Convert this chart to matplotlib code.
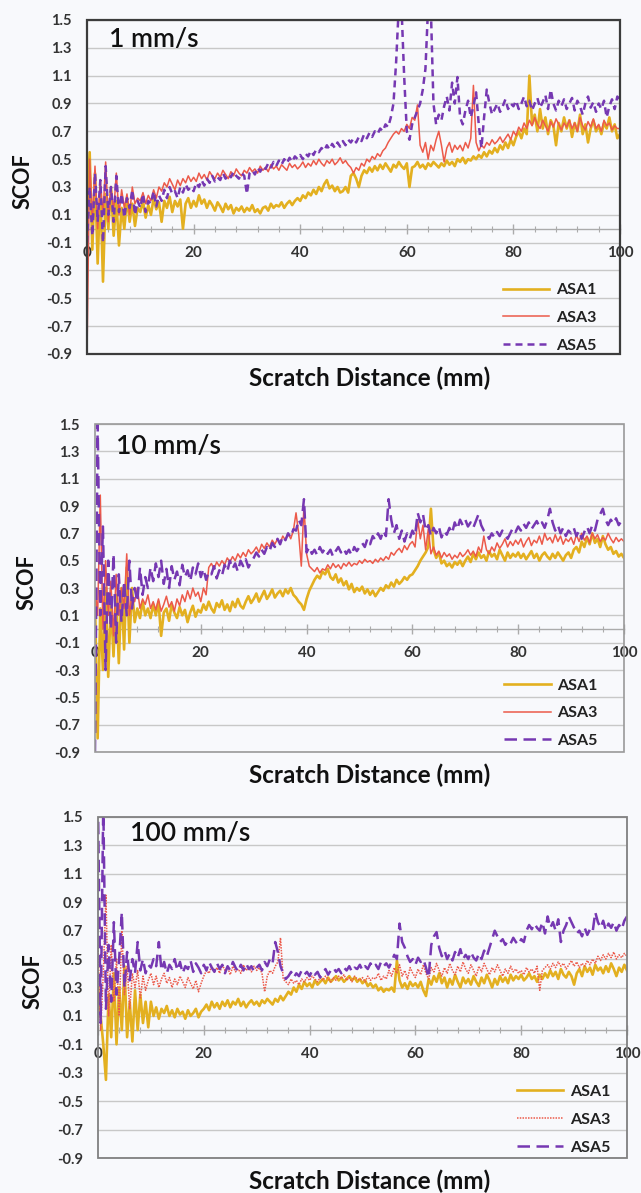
import numpy as np
import matplotlib
matplotlib.use('Agg')
import matplotlib.pyplot as plt
from matplotlib.patches import Rectangle
from matplotlib.ticker import MultipleLocator

plt.rcParams['font.family'] = ['Lato', 'DejaVu Sans']
plt.rcParams['axes.unicode_minus'] = False

# ---------------- data ----------------
panel_titles = ['1 mm/s', '10 mm/s', '100 mm/s']
series_names = ['ASA1', 'ASA3', 'ASA5']
x_ticks = [0, 20, 40, 60, 80, 100]
y_ticks = [-0.9, -0.7, -0.5, -0.3, -0.1, 0.1, 0.3, 0.5, 0.7, 0.9, 1.1, 1.3, 1.5]
x_label = 'Scratch Distance (mm)'
y_label = 'SCOF'

# SCOF sampled every 0.5 mm from 0 to 100 mm
# ---- 1 mm/s ----
asa1_1mm = [
    0.1, 0.55, -0.15, 0.4, -0.25, 0.3, -0.38, 0.25, 0.0, 0.3, -0.05, 0.2, -0.12, 0.15, 0.0, 0.22, 0.05, 0.18, 0.02, 0.15,
    0.12, 0.2, 0.08, 0.17, 0.1, 0.22, 0.14, 0.19, 0.05, 0.2, 0.15, 0.23, 0.12, 0.2, 0.16, 0.21, 0.0, 0.18, 0.22, 0.15,
    0.2, 0.16, 0.24, 0.18, 0.21, 0.15, 0.2, 0.17, 0.13, 0.19, 0.16, 0.12, 0.18, 0.14, 0.17, 0.11, 0.15, 0.13, 0.16, 0.12,
    0.15, 0.13, 0.17, 0.12, 0.14, 0.11, 0.15, 0.16, 0.13, 0.18, 0.15, 0.17, 0.16, 0.19, 0.15, 0.18, 0.2, 0.17, 0.2, 0.22,
    0.2, 0.24, 0.22, 0.26, 0.24, 0.28, 0.25, 0.3, 0.27, 0.32, 0.35, 0.29, 0.31, 0.27, 0.3, 0.26, 0.27, 0.3, 0.26, 0.38,
    0.4, 0.36, 0.3, 0.38, 0.42, 0.4, 0.44, 0.41, 0.45, 0.42, 0.46, 0.43, 0.47, 0.44, 0.41, 0.46, 0.44, 0.48, 0.45, 0.43,
    0.47, 0.3, 0.44, 0.45, 0.48, 0.44, 0.46, 0.43, 0.47, 0.45, 0.48, 0.46, 0.44, 0.47, 0.45, 0.49, 0.46, 0.48, 0.45, 0.5,
    0.48, 0.51, 0.47, 0.5, 0.49, 0.52, 0.5, 0.53, 0.51, 0.55, 0.52, 0.56, 0.54, 0.58, 0.55, 0.6, 0.57, 0.62, 0.58, 0.64,
    0.6, 0.66, 0.7, 0.65, 0.72, 0.68, 1.1, 0.75, 0.82, 0.7, 0.86, 0.72, 0.8, 0.68, 0.78, 0.74, 0.6, 0.76, 0.7, 0.8,
    0.72, 0.78, 0.66, 0.76, 0.7, 0.82, 0.68, 0.75, 0.62, 0.72, 0.78, 0.7, 0.74, 0.68, 0.76, 0.72, 0.8, 0.7, 0.75, 0.65,
    0.68]
asa3_1mm = [
    -0.9, 0.5, 0.05, 0.45, 0.0, 0.35, 0.1, 0.48, 0.05, 0.3, 0.12, 0.4, 0.1, 0.28, 0.15, 0.25, 0.1, 0.3, 0.18, 0.22,
    0.2, 0.26, 0.18, 0.24, 0.2, 0.28, 0.22, 0.3, 0.27, 0.33, 0.3, 0.36, 0.32, 0.28, 0.35, 0.31, 0.36, 0.33, 0.38, 0.34,
    0.37, 0.34, 0.4, 0.36, 0.39, 0.35, 0.41, 0.38, 0.36, 0.4, 0.37, 0.42, 0.39, 0.36, 0.41, 0.38, 0.43, 0.4, 0.38, 0.42,
    0.4, 0.44, 0.41, 0.43, 0.4, 0.45, 0.42, 0.44, 0.41, 0.46, 0.43, 0.45, 0.42, 0.46, 0.44, 0.42, 0.47, 0.44, 0.46, 0.43,
    0.45, 0.48, 0.44, 0.47, 0.45, 0.49, 0.46, 0.5, 0.47, 0.45, 0.49, 0.47, 0.5, 0.46, 0.48, 0.51, 0.47, 0.49, 0.46, 0.44,
    0.4, 0.44, 0.42, 0.47, 0.45, 0.5, 0.48, 0.52, 0.5, 0.54, 0.52, 0.56, 0.58, 0.62, 0.65, 0.68, 0.7, 0.68, 0.72, 0.7,
    0.75, 0.72, 0.8, 0.78, 0.89, 0.6, 0.55, 0.62, 0.5, 0.6, 0.56, 0.64, 0.7, 0.6, 0.48, 0.58, 0.62, 0.55, 0.6, 0.57,
    0.6, 0.56, 0.62, 0.58, 0.65, 1.03, 0.62, 0.56, 0.6, 0.58, 0.62, 0.6, 0.64, 0.61, 0.63, 0.66, 0.62, 0.65, 0.68, 0.64,
    0.7, 0.67, 0.73, 0.7, 0.76, 0.72, 0.78, 0.74, 0.8, 0.75, 0.72, 0.78, 0.74, 0.7, 0.77, 0.73, 0.79, 0.75, 0.71, 0.76,
    0.73, 0.78, 0.72, 0.76, 0.7, 0.8, 0.74, 0.71, 0.77, 0.73, 0.79, 0.72, 0.75, 0.7, 0.78, 0.74, 0.76, 0.71, 0.74, 0.72,
    0.72]
asa5_1mm = [
    -0.1, 0.3, -0.05, 0.4, 0.05, 0.35, -0.1, 0.45, 0.1, 0.3, 0.05, 0.38, 0.12, 0.25, 0.08, 0.22, 0.15, 0.28, 0.1, 0.2,
    0.15, 0.25, 0.12, 0.2, 0.18, 0.27, 0.16, 0.24, 0.2, 0.28, 0.22, 0.3, 0.25, 0.27, 0.22, 0.3, 0.26, 0.32, 0.28, 0.3,
    0.27, 0.33, 0.3, 0.35, 0.31, 0.36, 0.33, 0.38, 0.34, 0.37, 0.35, 0.4, 0.36, 0.39, 0.37, 0.41, 0.38, 0.36, 0.4, 0.38,
    0.25, 0.4, 0.42, 0.39, 0.44, 0.41, 0.45, 0.43, 0.47, 0.44, 0.48, 0.45, 0.49, 0.46, 0.5, 0.47, 0.51, 0.48, 0.52, 0.5,
    0.53, 0.5, 0.54, 0.52, 0.56, 0.53, 0.57, 0.55, 0.58, 0.56, 0.6, 0.57, 0.61, 0.58, 0.62, 0.59, 0.63, 0.6, 0.64, 0.62,
    0.65, 0.62, 0.66, 0.63, 0.68, 0.65, 0.69, 0.66, 0.7, 0.68, 0.72, 0.7, 0.75, 0.73, 0.8, 0.9, 1.2, 1.6, 1.6, 1.1,
    0.7, 0.64, 0.75, 0.8, 0.85, 0.9, 1.0, 1.15, 1.6, 1.6, 0.9, 0.75, 0.82, 0.78, 0.88, 0.95, 0.85, 1.05, 0.9, 1.09,
    0.8, 0.75, 0.85, 0.92, 0.8, 0.88, 0.98, 0.75, 0.58, 0.8, 1.0, 0.9, 0.82, 0.86, 0.9, 0.84, 0.88, 0.93, 0.86, 0.9,
    0.88, 0.92, 0.86, 0.9, 0.95, 0.88, 0.92, 0.85, 0.9, 0.94, 0.87, 0.91, 0.96, 0.86, 1.0, 0.9, 0.85, 0.92, 0.88, 0.93,
    0.86, 0.9, 0.94, 0.85, 0.92, 0.88, 0.82, 0.9, 0.95, 0.87, 0.91, 0.84, 0.9, 0.86, 0.92, 0.8, 0.88, 0.93, 0.86, 0.95,
    0.92]

# ---- 10 mm/s ----
asa1_10mm = [
    0.2, -0.8, 0.15, -0.3, 0.3, -0.35, 0.2, -0.2, 0.25, -0.25, 0.3, -0.15, 0.45, -0.1, 0.3, 0.05, 0.15, 0.08, 0.2, 0.1,
    0.15, 0.08, 0.18, 0.1, 0.2, -0.05, 0.12, 0.15, 0.06, 0.18, 0.12, 0.08, 0.16, 0.1, 0.14, 0.05, 0.12, 0.17, 0.09, 0.14,
    0.12, 0.18, 0.14, 0.2, 0.15, 0.12, 0.19, 0.16, 0.21, 0.14, 0.18, 0.13, 0.2, 0.16, 0.22, 0.17, 0.15, 0.2, 0.24, 0.19,
    0.22, 0.26, 0.2, 0.24, 0.28, 0.22, 0.25, 0.29, 0.23, 0.26, 0.28, 0.24, 0.29, 0.26, 0.3, 0.25, 0.23, 0.2, 0.18, 0.14,
    0.22, 0.28, 0.32, 0.36, 0.39, 0.37, 0.42, 0.4, 0.44, 0.38, 0.36, 0.4, 0.34, 0.37, 0.32, 0.35, 0.29, 0.33, 0.27, 0.3,
    0.28, 0.31, 0.26, 0.29, 0.25, 0.28, 0.24, 0.27, 0.3, 0.28, 0.32, 0.3, 0.34, 0.31, 0.36, 0.33, 0.35, 0.38, 0.36, 0.39,
    0.4, 0.43, 0.46, 0.5, 0.53, 0.56, 0.6, 0.88, 0.58, 0.52, 0.56, 0.48, 0.5, 0.46, 0.48, 0.45, 0.49, 0.47, 0.5, 0.46,
    0.5, 0.53, 0.49, 0.55, 0.51, 0.56, 0.52, 0.54, 0.5, 0.57, 0.53, 0.55, 0.51, 0.58, 0.54, 0.5, 0.56, 0.52, 0.55, 0.53,
    0.56, 0.52, 0.55, 0.51, 0.54, 0.57, 0.52, 0.55, 0.5, 0.54, 0.56, 0.53, 0.51, 0.55, 0.52, 0.56, 0.53, 0.5, 0.54, 0.56,
    0.52, 0.58, 0.6, 0.56, 0.64, 0.6, 0.67, 0.62, 0.7, 0.63, 0.66, 0.6, 0.68, 0.62, 0.58, 0.6, 0.55, 0.57, 0.53, 0.55,
    0.52]
asa3_10mm = [
    0.3, 0.1, 0.98, 0.0, 0.5, 0.1, 0.35, -0.05, 0.4, 0.1, 0.3, 0.15, 0.55, 0.1, 0.25, 0.2, 0.3, 0.15, 0.22, 0.18,
    0.25, 0.15, 0.2, 0.14, 0.22, 0.13, 0.18, 0.24, 0.16, 0.2, 0.13, 0.22, 0.17, 0.25, 0.2, 0.28, 0.22, 0.3, 0.24, 0.27,
    0.2, 0.3, 0.25, 0.45, 0.48, 0.44, 0.49, 0.46, 0.5, 0.47, 0.52, 0.49, 0.53, 0.5, 0.55, 0.52, 0.56, 0.53, 0.58, 0.55,
    0.57, 0.6, 0.56, 0.62, 0.59, 0.63, 0.6, 0.65, 0.62, 0.66, 0.63, 0.68, 0.65, 0.7, 0.66, 0.72, 0.85, 0.7, 0.46, 0.9,
    0.55, 0.46, 0.44, 0.42, 0.45, 0.41, 0.44, 0.43, 0.47, 0.44, 0.48, 0.45, 0.47, 0.44, 0.48, 0.46, 0.49, 0.46, 0.48, 0.47,
    0.5, 0.48, 0.51, 0.49, 0.5, 0.48, 0.51, 0.49, 0.52, 0.5, 0.53, 0.51, 0.56, 0.54, 0.57, 0.59, 0.56, 0.61, 0.58, 0.62,
    0.64, 0.6, 0.8, 0.66, 0.76, 0.58, 0.73, 0.55, 0.6, 0.54, 0.57, 0.52, 0.56, 0.53, 0.55, 0.51, 0.54, 0.52, 0.56, 0.53,
    0.55, 0.58, 0.54, 0.57, 0.53, 0.6, 0.56, 0.68, 0.58, 0.55, 0.6, 0.57, 0.63, 0.59, 0.62, 0.66, 0.6, 0.64, 0.61, 0.65,
    0.62, 0.66, 0.6, 0.64, 0.67, 0.61, 0.65, 0.63, 0.68, 0.62, 0.7, 0.65, 0.67, 0.63, 0.69, 0.64, 0.68, 0.62, 0.66, 0.64,
    0.67, 0.62, 0.69, 0.64, 0.7, 0.65, 0.68, 0.63, 0.7, 0.66, 0.69, 0.64, 0.67, 0.65, 0.7, 0.66, 0.63, 0.67, 0.64, 0.66,
    0.64]
asa5_10mm = [
    -0.9, 1.5, 0.1, 0.75, -0.3, 0.5, 0.0, 0.55, -0.1, 0.4, 0.05, 0.35, 0.1, 0.5, 0.15, 0.3, 0.2, 0.45, 0.25, 0.38,
    0.3, 0.45, 0.35, 0.48, 0.38, 0.5, 0.33, 0.44, 0.3, 0.46, 0.36, 0.42, 0.32, 0.47, 0.38, 0.43, 0.35, 0.45, 0.4, 0.48,
    0.38, 0.44, 0.36, 0.42, 0.4, 0.46, 0.37, 0.43, 0.39, 0.47, 0.42, 0.5, 0.44, 0.48, 0.42, 0.5, 0.46, 0.51, 0.45, 0.49,
    0.52, 0.56, 0.53, 0.58, 0.55, 0.6, 0.57, 0.63, 0.6, 0.66, 0.62, 0.68, 0.65, 0.7, 0.67, 0.73, 0.72, 0.8, 0.76, 0.95,
    0.56, 0.6, 0.55, 0.58, 0.54, 0.6, 0.56, 0.59, 0.55, 0.58, 0.53, 0.57, 0.6, 0.56, 0.59, 0.55, 0.58, 0.54, 0.6, 0.57,
    0.6, 0.63, 0.6, 0.66, 0.62, 0.68, 0.65, 0.7, 0.66, 0.72, 0.68, 0.95, 0.8, 0.7, 0.76, 0.66, 0.72, 0.64, 0.7, 0.66,
    0.72, 0.68, 0.85, 0.78, 0.84, 0.72, 0.76, 0.68, 0.74, 0.7, 0.75, 0.67, 0.72, 0.69, 0.74, 0.7, 0.78, 0.73, 0.8, 0.76,
    0.8, 0.75, 0.78, 0.74, 0.79, 0.84, 0.76, 0.72, 0.7, 0.66, 0.7, 0.67, 0.71, 0.68, 0.72, 0.69, 0.66, 0.7, 0.74, 0.71,
    0.75, 0.72, 0.77, 0.74, 0.78, 0.73, 0.76, 0.79, 0.75, 0.78, 0.74, 0.8, 0.88, 0.78, 0.72, 0.76, 0.7, 0.74, 0.68, 0.72,
    0.7, 0.74, 0.68, 0.72, 0.66, 0.71, 0.75, 0.7, 0.76, 0.72, 0.8, 0.84, 0.88, 0.8, 0.76, 0.8, 0.77, 0.81, 0.76, 0.79,
    0.78]

# ---- 100 mm/s ----
asa1_100mm = [
    0.3, 0.1, -0.1, -0.35, 0.25, -0.05, 0.4, -0.1, 0.3, 0.0, 0.45, -0.05, 0.2, -0.08, 0.28, 0.0, 0.25, 0.05, 0.2, 0.02,
    0.2, 0.1, 0.16, 0.08, 0.15, 0.12, 0.17, 0.1, 0.14, 0.09, 0.15, 0.11, 0.13, 0.08, 0.14, 0.1, 0.12, 0.15, 0.09, 0.13,
    0.15, 0.18, 0.14, 0.2, 0.16, 0.19, 0.15, 0.2, 0.17, 0.21, 0.16, 0.2, 0.18, 0.22, 0.17, 0.2, 0.16, 0.19, 0.21, 0.18,
    0.2, 0.17, 0.21, 0.19, 0.22, 0.2, 0.18, 0.22, 0.2, 0.24, 0.21, 0.24, 0.27, 0.25, 0.3, 0.27, 0.32, 0.29, 0.34, 0.31,
    0.33, 0.3, 0.35, 0.32, 0.34, 0.36, 0.33, 0.37, 0.34, 0.36, 0.38, 0.35, 0.37, 0.34, 0.36, 0.38, 0.35, 0.37, 0.34, 0.36,
    0.33, 0.35, 0.31, 0.33, 0.3, 0.32, 0.28, 0.3, 0.27, 0.29, 0.28, 0.3, 0.27, 0.49, 0.35, 0.3, 0.33, 0.29, 0.34, 0.31,
    0.33, 0.3, 0.34, 0.28, 0.24, 0.36, 0.32, 0.38, 0.34, 0.4, 0.33, 0.37, 0.3, 0.36, 0.32, 0.39, 0.34, 0.3, 0.37, 0.33,
    0.36, 0.32, 0.38, 0.34, 0.31, 0.37, 0.33, 0.39, 0.35, 0.3, 0.36, 0.32, 0.38, 0.34, 0.37, 0.33, 0.39, 0.35, 0.38, 0.36,
    0.39, 0.35, 0.37, 0.4, 0.36, 0.38, 0.34, 0.39, 0.36, 0.4, 0.37, 0.42, 0.38, 0.41, 0.36, 0.43, 0.39, 0.37, 0.41, 0.38,
    0.32, 0.4, 0.43, 0.38, 0.45, 0.41, 0.44, 0.39, 0.46, 0.42, 0.44, 0.4, 0.45, 0.41, 0.47, 0.43, 0.38, 0.44, 0.41, 0.46,
    0.42]
asa3_100mm = [
    0.6, 0.0, 0.4, 0.95, 0.1, 0.6, 0.2, 0.5, 0.1, 0.7, 0.25, 0.45, 0.15, 0.4, 0.3, 0.42, 0.22, 0.38, 0.28, 0.35,
    0.4, 0.32, 0.38, 0.3, 0.36, 0.4, 0.33, 0.37, 0.3, 0.36, 0.32, 0.38, 0.34, 0.3, 0.37, 0.33, 0.29, 0.35, 0.27, 0.33,
    0.38, 0.42, 0.4, 0.45, 0.41, 0.44, 0.4, 0.46, 0.42, 0.44, 0.39, 0.45, 0.41, 0.43, 0.4, 0.46, 0.42, 0.44, 0.41, 0.45,
    0.42, 0.44, 0.4, 0.27, 0.38, 0.42, 0.4, 0.45, 0.48, 0.65, 0.36, 0.34, 0.32, 0.36, 0.33, 0.35, 0.32, 0.36, 0.34, 0.37,
    0.35, 0.38, 0.36, 0.34, 0.37, 0.35, 0.38, 0.36, 0.34, 0.37, 0.35, 0.38, 0.36, 0.39, 0.35, 0.37, 0.34, 0.38, 0.36, 0.35,
    0.37, 0.34, 0.38, 0.35, 0.37, 0.36, 0.4, 0.35, 0.38, 0.36, 0.42, 0.38, 0.44, 0.4, 0.46, 0.38, 0.42, 0.36, 0.44, 0.4,
    0.37, 0.43, 0.39, 0.46, 0.4, 0.36, 0.44, 0.41, 0.47, 0.42, 0.38, 0.44, 0.4, 0.47, 0.42, 0.39, 0.45, 0.41, 0.48, 0.43,
    0.4, 0.46, 0.42, 0.38, 0.45, 0.41, 0.47, 0.43, 0.39, 0.44, 0.41, 0.46, 0.42, 0.38, 0.43, 0.4, 0.45, 0.41, 0.43, 0.4,
    0.42, 0.39, 0.44, 0.41, 0.43, 0.4, 0.45, 0.28, 0.42, 0.44, 0.46, 0.43, 0.47, 0.44, 0.48, 0.45, 0.47, 0.43, 0.46, 0.49,
    0.45, 0.48, 0.44, 0.47, 0.45, 0.49, 0.46, 0.5, 0.47, 0.52, 0.49, 0.53, 0.5, 0.54, 0.51, 0.55, 0.5, 0.53, 0.51, 0.54,
    0.52]
asa5_100mm = [
    1.6, 0.05, 1.6, 0.15, 0.6, 0.2, 0.76, 0.25, 0.5, 0.83, 0.3, 0.55, 0.35, 0.5, 0.4, 0.62, 0.42, 0.5, 0.4, 0.46,
    0.44, 0.5, 0.45, 0.62, 0.42, 0.48, 0.4, 0.46, 0.43, 0.5, 0.42, 0.48, 0.4, 0.45, 0.43, 0.49, 0.41, 0.47, 0.44, 0.4,
    0.46, 0.42, 0.48, 0.44, 0.41, 0.47, 0.43, 0.46, 0.4, 0.45, 0.42, 0.48, 0.44, 0.41, 0.46, 0.42, 0.47, 0.43, 0.45, 0.41,
    0.44, 0.46, 0.42, 0.48, 0.45, 0.5, 0.47, 0.62, 0.55, 0.45, 0.4, 0.36, 0.38, 0.41, 0.37, 0.4, 0.38, 0.42, 0.39, 0.41,
    0.38, 0.42, 0.39, 0.41, 0.37, 0.4, 0.43, 0.39, 0.42, 0.44, 0.41, 0.43, 0.4, 0.44, 0.42, 0.45, 0.41, 0.44, 0.43, 0.46,
    0.42, 0.45, 0.43, 0.47, 0.44, 0.46, 0.43, 0.48, 0.45, 0.47, 0.44, 0.48, 0.53, 0.5, 0.75, 0.62, 0.58, 0.52, 0.48, 0.5,
    0.46, 0.51, 0.48, 0.5, 0.44, 0.37, 0.6, 0.66, 0.69, 0.58, 0.52, 0.56, 0.5, 0.54, 0.49, 0.55, 0.51, 0.57, 0.5, 0.53,
    0.5, 0.55, 0.51, 0.49, 0.54, 0.5, 0.56, 0.52, 0.58, 0.64, 0.7, 0.66, 0.62, 0.64, 0.6, 0.63, 0.61, 0.65, 0.62, 0.6,
    0.64, 0.62, 0.7, 0.74, 0.71, 0.75, 0.72, 0.7, 0.76, 0.68, 0.8, 0.72, 0.76, 0.7, 0.78, 0.62, 0.7, 0.74, 0.8, 0.76,
    0.72, 0.68, 0.7, 0.66, 0.72, 0.67, 0.71, 0.69, 0.83, 0.76, 0.72, 0.77, 0.7, 0.75, 0.72, 0.76, 0.7, 0.74, 0.71, 0.77,
    0.8]

panels = [
    (asa1_1mm, asa3_1mm, asa5_1mm),
    (asa1_10mm, asa3_10mm, asa5_10mm),
    (asa1_100mm, asa3_100mm, asa5_100mm),
]

# ---------------- style ----------------
W, H = 641, 1193
fig = plt.figure(figsize=(W / 100, H / 100), dpi=100)
bg = '#F8F9FC'
fig.patch.set_facecolor(bg)

c_gold = '#E3B020'
c_red = '#EC5A4A'
c_purple = '#7638B2'

# pixel boxes: left, top, right, bottom
boxes = [(87, 20, 620, 354), (95, 424, 624, 752), (98, 817, 627, 1158)]
frame_colors = ['#3C3C3C', '#9A9A9A', '#808080']
frame_lw = [1.6, 1.2, 1.3]
asa3_styles = ['-', '-', (0, (1, 0.8))]
asa5_dashes = [(2.8, 2.0), (5.0, 2.6), (5.0, 2.6)]
title_pos = [(0.042, 0.978), (0.040, 0.968), (0.060, 0.988)]
legend_anchor = [(0.955, 0.004), (0.95, 0.012), (0.968, 0.010)]
ylabel_x = [23, 27, 33]
xlabel_y = [378, 775, 1181]

for i, (box, data) in enumerate(zip(boxes, panels)):
    l, t, r, b = box
    ax = fig.add_axes([l / W, 1 - b / H, (r - l) / W, (b - t) / H])
    ax.set_facecolor(bg)
    ax.set_xlim(0, 100)
    ax.set_ylim(-0.9, 1.5)

    a1, a3, a5 = data
    x1 = np.linspace(0, 100, len(a1))
    x3 = np.linspace(0, 100, len(a3))
    x5 = np.linspace(0, 100, len(a5))
    ax.plot(x1, a1, color=c_gold, lw=1.9, zorder=3, label=series_names[0])
    ax.plot(x3, a3, color=c_red, lw=1.1, ls=asa3_styles[i], zorder=3, label=series_names[1])
    ax.plot(x5, a5, color=c_purple, lw=1.8, ls=(0, asa5_dashes[i]), zorder=3, label=series_names[2])

    # grid
    ax.set_yticks(y_ticks)
    ax.set_yticklabels([f'{v:.1f}' for v in y_ticks])
    ax.yaxis.grid(True, color='#C8C8C8', lw=1.0, zorder=0)
    ax.set_axisbelow(True)

    # spines: bottom axis at y = 0
    for s in ['left', 'right', 'top']:
        ax.spines[s].set_visible(False)
    ax.spines['bottom'].set_position(('data', 0))
    ax.spines['bottom'].set_color('#ABABAB')
    ax.spines['bottom'].set_linewidth(1.0)
    ax.spines['bottom'].set_zorder(1)

    ax.set_xticks(x_ticks)
    ax.set_xticklabels([str(v) for v in x_ticks])
    ax.xaxis.set_minor_locator(MultipleLocator(4))
    ax.tick_params(axis='x', which='major', direction='inout', length=7, width=1.0,
                   color='#ABABAB', pad=9, labelsize=11, labelcolor='#333333')
    ax.tick_params(axis='x', which='minor', direction='inout', length=4, width=0.8, color='#ABABAB')
    ax.tick_params(axis='y', length=0, pad=11, labelsize=10.5, labelcolor='#333333')
    for lab in ax.get_xticklabels() + ax.get_yticklabels():
        lab.set_fontweight('bold')

    # frame
    ax.add_patch(Rectangle((0, 0), 1, 1, transform=ax.transAxes, fill=False,
                           edgecolor=frame_colors[i], lw=frame_lw[i], zorder=4, clip_on=False))

    ax.text(title_pos[i][0], title_pos[i][1], panel_titles[i], transform=ax.transAxes,
            ha='left', va='top', fontsize=19, fontweight='semibold', color='#111111', zorder=5)

    leg = ax.legend(loc='lower right', bbox_to_anchor=legend_anchor[i], frameon=False,
                    borderpad=0, borderaxespad=0, handlelength=2.9, handletextpad=0.4,
                    labelspacing=0.85, prop={'weight': 'bold', 'size': 11.5})
    for txt in leg.get_texts():
        txt.set_color('#222222')

    fig.text(ylabel_x[i] / W, 1 - ((t + b) / 2 - 6) / H, y_label, rotation=90,
             ha='center', va='center', fontsize=15.5, fontweight='bold', color='#111111')
    fig.text(370 / W, 1 - xlabel_y[i] / H, x_label, ha='center', va='center',
             fontsize=17.5, fontweight='bold', color='#111111')

fig.savefig('out.png', dpi=100, facecolor=bg)
